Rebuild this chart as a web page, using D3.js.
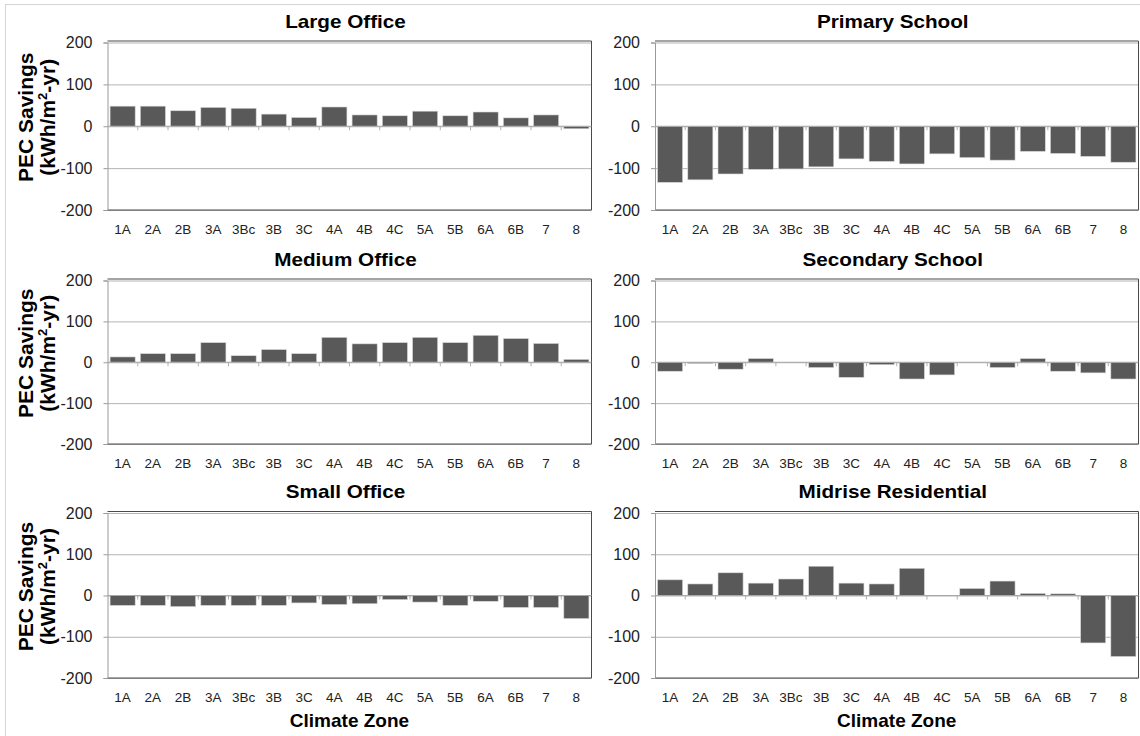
<!DOCTYPE html>
<html>
<head>
<meta charset="utf-8">
<script src="https://cdn.jsdelivr.net/npm/d3@7"></script>
<style>
  body { margin: 0; background: #fff; }
  text { font-family: Arial, "Liberation Sans", sans-serif; }
</style>
</head>
<body>
<div id="chart-area"></div>
<script>
// Data (PEC savings, kWh/m2-yr)
var zones = ["1A", "2A", "2B", "3A", "3Bc", "3B", "3C", "4A", "4B", "4C", "5A", "5B", "6A", "6B", "7", "8"];
var titles = ["Large Office", "Primary School", "Medium Office", "Secondary School", "Small Office", "Midrise Residential"];
var largeOffice = [48, 48, 37, 45, 43, 29, 21, 46, 27, 25, 36, 25, 34, 20, 27, -6];
var primarySchool = [-134, -128, -114, -103, -102, -97, -78, -84, -90, -66, -75, -81, -60, -65, -72, -86];
var mediumOffice = [13, 21, 21, 48, 16, 31, 21, 61, 45, 48, 61, 48, 66, 58, 46, 7];
var secondarySchool = [-22, -3, -17, 9, 0, -13, -37, -6, -41, -31, 0, -13, 9, -22, -26, -41];
var smallOffice = [-24, -24, -27, -24, -24, -24, -18, -22, -20, -10, -16, -24, -14, -29, -29, -56];
var midriseResidential = [38, 28, 55, 30, 40, 71, 30, 28, 66, 0, 17, 35, 5, 4, -115, -148];
var yTicks = [-200, -100, 0, 100, 200];

var seriesList = [largeOffice, primarySchool, mediumOffice, secondarySchool, smallOffice, midriseResidential];

// Layout of the 3x2 grid
var width = 1140, height = 736;
var colX = [[107.5, 591.5], [655, 1138.5]];
var rowY = [[42.5, 210], [280.5, 444], [513, 678]];   // [y of 200, y of -200]

var svg = d3.select("#chart-area")
    .append("svg")
        .attr("width", width)
        .attr("height", height);

// faint outer frame of the figure
svg.append("rect")
    .attr("x", 5.5).attr("y", 4.5)
    .attr("width", 1200).attr("height", 800)
    .attr("fill", "none")
    .attr("stroke", "#d4d4d4");

seriesList.forEach(function(values, i) {
    var col = i % 2, row = Math.floor(i / 2);

    var x = d3.scaleBand()
        .domain(zones)
        .range(colX[col])
        .paddingInner(0.17)
        .paddingOuter(0.085);

    var y = d3.scaleLinear()
        .domain([-200, 200])
        .range([rowY[row][1], rowY[row][0]]);

    var x0 = colX[col][0], x1 = colX[col][1];
    var g = svg.append("g");

    // Gridlines
    var yGridlines = d3.axisLeft(y)
        .tickValues(yTicks)
        .tickSize(-(x1 - x0))
        .tickFormat("");
    g.append("g")
        .attr("transform", "translate(" + x0 + ",0)")
        .call(yGridlines)
        .call(function(s) {
            s.select(".domain").remove();
            s.selectAll("line").attr("stroke", "#b4b4b4");
        });

    // plot frame (top, right, bottom dark)
    g.append("path")
        .attr("d", "M" + x0 + "," + (y(200) - 1.5) + "H" + x1 + "V" + y(-200) + "H" + x0)
        .attr("fill", "none")
        .attr("stroke", "#4a4a4a");

    // Y Axis
    var yAxisCall = d3.axisLeft(y)
        .tickValues(yTicks)
        .tickSize(4)
        .tickPadding(11)
        .tickFormat(function(d) { return String(d); });
    g.append("g")
        .attr("transform", "translate(" + x0 + ",0)")
        .call(yAxisCall)
        .call(function(s) {
            s.select(".domain").attr("stroke", "#9a9a9a");
            s.selectAll("line").attr("stroke", "#9a9a9a");
            s.selectAll("text")
                .attr("font-size", "16px")
                .attr("fill", "#222")
                .style("font-family", "Arial, 'Liberation Sans', sans-serif");
        });

    // Bars
    g.selectAll("rect.bar")
        .data(values)
        .enter()
        .append("rect")
            .attr("class", "bar")
            .attr("x", function(d, j) { return x(zones[j]); })
            .attr("width", x.bandwidth())
            .attr("y", function(d) { return y(Math.max(0, d)); })
            .attr("height", function(d) { return Math.abs(y(d) - y(0)); })
            .attr("fill", "#595959")
            .attr("stroke", "#d8d8d8")
            .attr("stroke-width", 0.6);

    // zero axis with ticks at category boundaries
    var bounds = zones.map(function(z) { return x(z) - x.step() * x.paddingInner() / 2; });
    bounds.push(x1);
    g.append("line")
        .attr("x1", x0).attr("x2", x1)
        .attr("y1", y(0)).attr("y2", y(0))
        .attr("stroke", "#a8a8a8");
    g.selectAll("line.ztick")
        .data(bounds.slice(1, -1))
        .enter()
        .append("line")
            .attr("class", "ztick")
            .attr("x1", function(d) { return d; })
            .attr("x2", function(d) { return d; })
            .attr("y1", y(0))
            .attr("y2", y(0) + 4)
            .attr("stroke", "#b0b0b0");

    // category labels
    g.selectAll("text.cat")
        .data(zones)
        .enter()
        .append("text")
            .attr("class", "cat")
            .attr("x", function(d) { return x(d) + x.bandwidth() / 2; })
            .attr("y", y(-200) + 24)
            .attr("text-anchor", "middle")
            .attr("font-size", "13.5px")
            .attr("fill", "#222")
            .text(function(d) { return d; });

    // panel title (the original type is set a little wide)
    g.append("text")
        .attr("transform", "translate(" + ((x0 + x1) / 2 - 4) + "," + (y(200) - 15) + ") scale(1.15,1)")
        .attr("text-anchor", "middle")
        .attr("font-size", "18px")
        .attr("font-weight", "bold")
        .text(titles[i]);

    // Y Label on left column
    if (col === 0) {
        var cy = (y(200) + y(-200)) / 2 - 9;
        var yLabel = g.append("text")
            .attr("transform", "translate(33," + cy + ") rotate(-90)")
            .attr("text-anchor", "middle")
            .attr("font-size", "21px")
            .attr("font-weight", "bold");
        yLabel.append("tspan")
            .attr("x", 0).attr("y", 0)
            .text("PEC Savings");
        var l2 = yLabel.append("tspan")
            .attr("x", 0).attr("y", 22);
        l2.append("tspan").text("(kWh/m");
        l2.append("tspan").attr("font-size", "13px").attr("dy", -8).text("2");
        l2.append("tspan").attr("dy", 8).text("-yr)");
    }

    // X Label on bottom row
    if (row === 2) {
        g.append("text")
            .attr("x", (x0 + x1) / 2)
            .attr("y", 727)
            .attr("text-anchor", "middle")
            .attr("font-size", "19px")
            .attr("font-weight", "bold")
            .text("Climate Zone");
    }
});
</script>
</body>
</html>
